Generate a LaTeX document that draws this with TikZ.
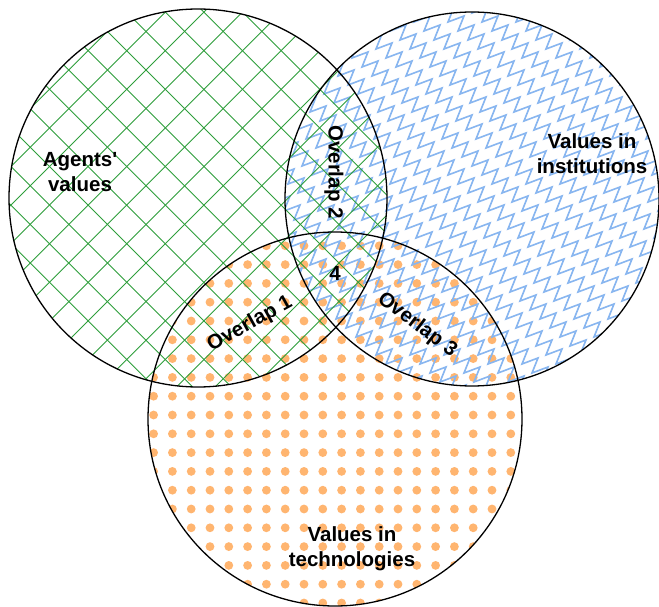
\documentclass[tikz,border=0pt]{standalone}
\usepackage{fontspec}
\setmainfont{Liberation Sans}[Ligatures=TeXOff]
\definecolor{dotorange}{HTML}{FFB570}
\definecolor{zigblue}{HTML}{88B6F0}
\definecolor{hatchgreen}{HTML}{2E9E3B}
\tikzset{
  venn/.style={draw=black, line width=1.3pt},
  lbl/.style={font=\bfseries\fontsize{20.5}{25}\selectfont, align=center, inner sep=0pt, text=black},
}
\begin{document}
\begin{tikzpicture}[x=1pt,y=-1pt]
\useasboundingbox (0,0) rectangle (659,607);
\fill[white] (0,0) rectangle (659,607);
% orange dots (technologies)
\begin{scope}
  \clip (335,419) circle[radius=187];
  \foreach \k in {-4,...,17} {
    \foreach \m in {-11,...,11} {
      \fill[dotorange] ({210+18.8*\k},{415+18.8*\m}) circle[radius=4.4];
    }
  }
\end{scope}
% blue zigzag (institutions): chains of Z shapes
\begin{scope}
  \clip (472,199) circle[radius=187];
  \foreach \k in {-8,...,18} {
    \draw[zigblue, line width=1.6pt, line join=miter]
      ({\k*34},-14)
      \foreach \j in {1,...,50} { -- ++(16,-6) -- ++(-6,15) };
  }
\end{scope}
% green cross-hatch (agents)
\begin{scope}
  \clip (198,198) circle[radius=189];
  \foreach \k in {-11,...,7} {
    \draw[hatchgreen, line width=0.9pt] ({76+38.6*\k-100},-100) -- ({76+38.6*\k+700},700);
  }
  \foreach \k in {-3,...,14} {
    \draw[hatchgreen, line width=0.9pt] ({177.4+38.6*\k+100},-100) -- ({177.4+38.6*\k-700},700);
  }
\end{scope}
% outlines
\node[venn, circle, minimum size=378pt, inner sep=0pt] (agents) at (198,198) {};
\node[venn, circle, minimum size=374pt, inner sep=0pt] (inst) at (472,199) {};
\node[venn, circle, minimum size=374pt, inner sep=0pt] (tech) at (335,419) {};
% labels
\node[lbl] (la) at (80,172) {Agents'\\values};
\node[lbl] (li) at (592,154) {Values in\\institutions};
\node[lbl] (lt) at (352,549) {Values in\\technologies};
\node[lbl, rotate=-90] (o2) at (334,172) {Overlap 2};
\node[lbl] (o4) at (335,273) {4};
\node[lbl, rotate=29] (o1) at (250,324) {Overlap 1};
\node[lbl, rotate=-37] (o3) at (417,325) {Overlap 3};
\end{tikzpicture}
\end{document}
